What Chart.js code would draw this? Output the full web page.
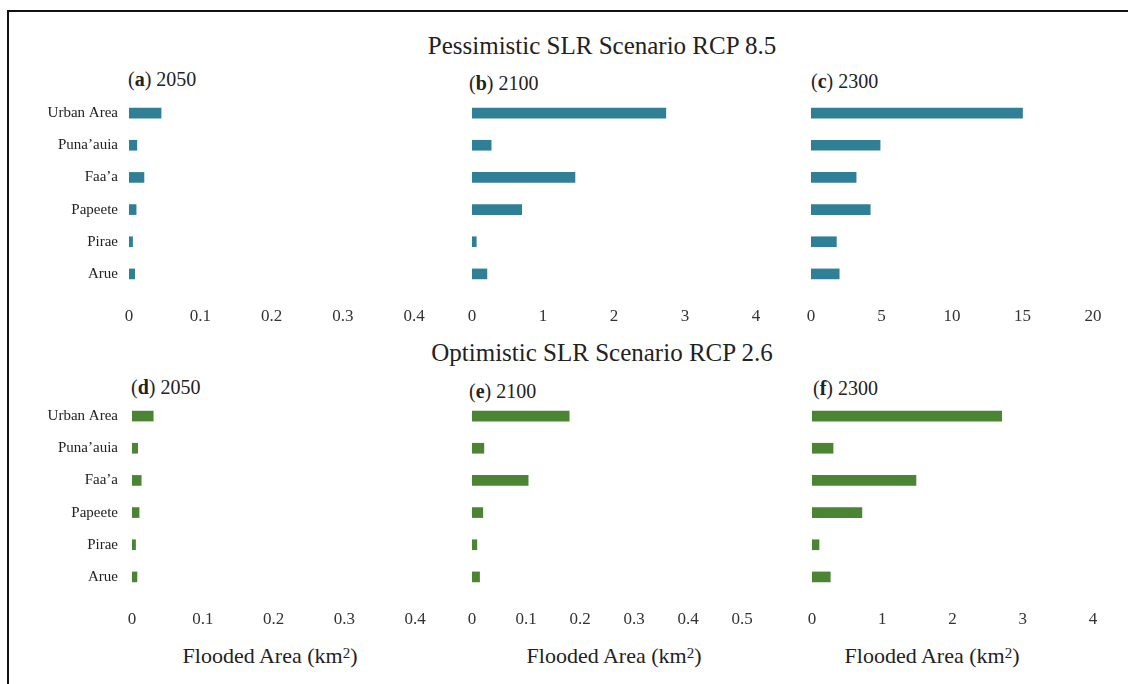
<!DOCTYPE html>
<html>
<head>
<meta charset="utf-8">
<script src="https://cdn.jsdelivr.net/npm/chart.js@4"></script>
<style>
  body { margin: 0; background: #fff; }
  #page { position: relative; width: 1128px; height: 684px; overflow: hidden; font-family: "Liberation Serif", serif; color: #222; }
  #frame { position: absolute; left: 7px; top: 10px; width: 1140px; height: 700px; border-top: 2px solid #111; border-left: 2px solid #111; }
  .txt { position: absolute; white-space: nowrap; line-height: 1; }
  .row-title { font-size: 25px; transform: translate(-50%, -50%); }
  .panel { font-size: 20px; transform: translateY(-50%); }
  .axis-title { font-size: 22px; transform: translate(-50%, -50%); }
  .axis-title sup { font-size: 15px; vertical-align: 5px; }
  canvas { position: absolute; }
</style>
</head>
<body>
<div id="page">
  <div id="frame"></div>
  <div class="txt row-title" style="left:602px; top:45px;">Pessimistic SLR Scenario RCP 8.5</div>
  <div class="txt row-title" style="left:602px; top:352px;">Optimistic SLR Scenario RCP 2.6</div>

  <div class="txt panel" style="left:128px; top:79px;">(<b>a</b>) 2050</div>
  <div class="txt panel" style="left:469px; top:83px;">(<b>b</b>) 2100</div>
  <div class="txt panel" style="left:811px; top:81px;">(<b>c</b>) 2300</div>
  <div class="txt panel" style="left:131px; top:387px;">(<b>d</b>) 2050</div>
  <div class="txt panel" style="left:469px; top:391px;">(<b>e</b>) 2100</div>
  <div class="txt panel" style="left:813px; top:388px;">(<b>f</b>) 2300</div>

  <div class="txt axis-title" style="left:270px; top:656px;">Flooded Area (km<sup>2</sup>)</div>
  <div class="txt axis-title" style="left:614px; top:656px;">Flooded Area (km<sup>2</sup>)</div>
  <div class="txt axis-title" style="left:932px; top:656px;">Flooded Area (km<sup>2</sup>)</div>

  <canvas id="pa"></canvas>
  <canvas id="pb"></canvas>
  <canvas id="pc"></canvas>
  <canvas id="pd"></canvas>
  <canvas id="pe"></canvas>
  <canvas id="pf"></canvas>
</div>
<script>
// areas
const categories = ["Urban Area", "Puna\u2019auia", "Faa\u2019a", "Papeete", "Pirae", "Arue"];

// flooded area, km2 - pessimistic RCP 8.5
const rcp85_2050 = [0.045, 0.011, 0.021, 0.010, 0.005, 0.008];
const rcp85_2100 = [2.73, 0.27, 1.45, 0.70, 0.06, 0.21];
const rcp85_2300 = [15.0, 4.9, 3.2, 4.2, 1.8, 2.0];

// flooded area, km2 - optimistic RCP 2.6
const rcp26_2050 = [0.030, 0.008, 0.013, 0.010, 0.005, 0.007];
const rcp26_2100 = [0.18, 0.022, 0.104, 0.020, 0.009, 0.014];
const rcp26_2300 = [2.70, 0.30, 1.48, 0.71, 0.10, 0.26];

// x axis max / step per panel (a..f)
const axisMax = [0.4, 4, 20, 0.4, 0.5, 4];
const axisStep = [0.1, 1, 5, 0.1, 0.1, 1];

const teal = '#2f7f97';
const green = '#4b8533';

// where each panel's plot area sits on the page
const panels = [
  { id: 'pa', data: rcp85_2050, color: teal,  x0: 129, x1: 414,  top: 97,  bottom: 290, labels: true,  labelGap: 11 },
  { id: 'pb', data: rcp85_2100, color: teal,  x0: 472, x1: 756,  top: 97,  bottom: 290, labels: false },
  { id: 'pc', data: rcp85_2300, color: teal,  x0: 811, x1: 1093, top: 97,  bottom: 290, labels: false },
  { id: 'pd', data: rcp26_2050, color: green, x0: 132, x1: 415,  top: 400, bottom: 593, labels: true,  labelGap: 14 },
  { id: 'pe', data: rcp26_2100, color: green, x0: 472, x1: 742,  top: 400, bottom: 593, labels: false },
  { id: 'pf', data: rcp26_2300, color: green, x0: 812, x1: 1093, top: 400, bottom: 593, labels: false }
];

const fontFamily = '"Liberation Serif", serif';

panels.forEach((p, i) => {
  const yW = p.labels ? 110 : 10;
  const padTop = 5, padRight = 25, xH = 40;
  const left = p.x0 - yW;
  const width = p.x1 - left + padRight;
  const top = p.top - padTop;
  const height = p.bottom - top + xH;

  const cv = document.getElementById(p.id);
  cv.style.left = left + 'px';
  cv.style.top = top + 'px';
  cv.width = width;
  cv.height = height;

  new Chart(cv.getContext('2d'), {
    type: 'bar',
    data: {
      labels: categories,
      datasets: [{
        data: p.data,
        backgroundColor: p.color,
        barThickness: 10
      }]
    },
    options: {
      indexAxis: 'y',
      responsive: false,
      animation: false,
      layout: { padding: { top: padTop, right: padRight, left: 0, bottom: 0 } },
      plugins: { legend: { display: false }, tooltip: { enabled: false } },
      scales: {
        x: {
          min: 0,
          max: axisMax[i],
          grid: { display: false, drawTicks: false },
          border: { display: false },
          ticks: {
            stepSize: axisStep[i],
            padding: 16,
            color: '#333',
            font: { family: fontFamily, size: 17 }
          },
          afterFit: s => { s.height = xH; s.paddingLeft = 0; s.paddingRight = 0; }
        },
        y: {
          grid: { display: false, drawTicks: false },
          border: { display: false },
          ticks: {
            display: p.labels,
            padding: p.labelGap || 0,
            color: '#222',
            font: { family: fontFamily, size: 15 }
          },
          afterFit: s => { s.width = yW; s.paddingTop = 0; s.paddingBottom = 0; }
        }
      }
    }
  });
});
</script>
</body>
</html>
